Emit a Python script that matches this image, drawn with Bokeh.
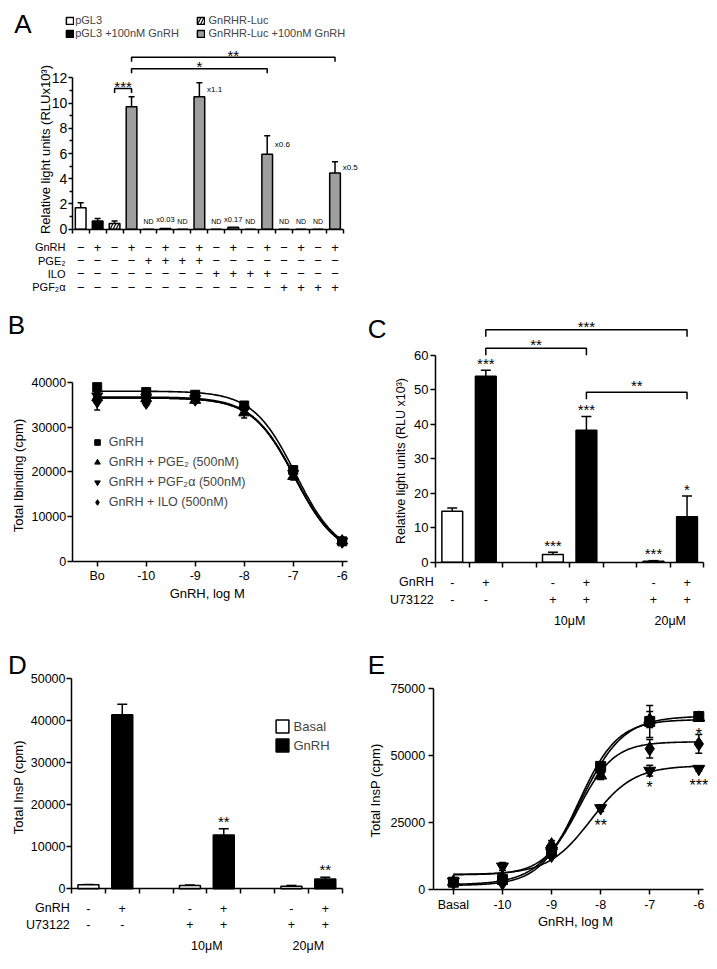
import numpy as np
from bokeh.plotting import figure
from bokeh.models import (ColumnDataSource, Range1d, FixedTicker, Whisker, TeeHead,
                          Label, Legend, LegendItem)
from bokeh.layouts import column, row
from bokeh.embed import file_html
from bokeh.resources import INLINE

FONT = "Liberation Sans"

# ======================= DATA =======================
# ---- Panel A : luciferase reporter ----
a_series = ["pGL3", "pGL3 +100nM GnRH", "GnRHR-Luc", "GnRHR-Luc +100nM GnRH",
            "GnRHR-Luc", "GnRHR-Luc +100nM GnRH", "GnRHR-Luc", "GnRHR-Luc +100nM GnRH",
            "GnRHR-Luc", "GnRHR-Luc +100nM GnRH", "GnRHR-Luc", "GnRHR-Luc +100nM GnRH",
            "GnRHR-Luc", "GnRHR-Luc +100nM GnRH", "GnRHR-Luc", "GnRHR-Luc +100nM GnRH"]
a_values = [1.7, 0.65, 0.45, 9.7, 0, 0.05, 0, 10.5, 0, 0.15, 0, 5.95, 0, 0, 0, 4.45]
a_errors = [0.4, 0.2, 0.2, 0.8, 0, 0, 0, 1.1, 0, 0, 0, 1.45, 0, 0, 0, 0.9]
a_notes = ["", "", "", "", "ND", "x0.03", "ND", "x1.1", "ND", "x0.17", "ND", "x0.6",
           "ND", "ND", "ND", "x0.5"]
a_gnrh = ["-", "+", "-", "+", "-", "+", "-", "+", "-", "+", "-", "+", "-", "+", "-", "+"]
a_pge2 = ["-", "-", "-", "-", "+", "+", "+", "+", "-", "-", "-", "-", "-", "-", "-", "-"]
a_ilo = ["-", "-", "-", "-", "-", "-", "-", "-", "+", "+", "+", "+", "-", "-", "-", "-"]
a_pgf2a = ["-", "-", "-", "-", "-", "-", "-", "-", "-", "-", "-", "-", "+", "+", "+", "+"]
a_row_names = ["GnRH", "PGE₂", "ILO", "PGF₂α"]
a_legend = ["pGL3", "pGL3 +100nM GnRH", "GnRHR-Luc", "GnRHR-Luc +100nM GnRH"]
a_brackets = [(2, 3, "***"), (3, 11, "*"), (3, 15, "**")]
a_yticks = [0, 2, 4, 6, 8, 10, 12]

# ---- Panel B : binding ----
b_logdose = [-11, -10, -9, -8, -7, -6]
b_tick_labels = ["Bo", "-10", "-9", "-8", "-7", "-6"]
b_names = ["GnRH", "GnRH + PGE₂ (500nM)", "GnRH + PGF₂α (500nM)", "GnRH + ILO (500nM)"]
b_gnrh = [38900, 37800, 37200, 34800, 20400, 4500]
b_gnrh_err = [600, 500, 500, 700, 700, 400]
b_pge2 = [36600, 36400, 36000, 33200, 19000, 4600]
b_pge2_err = [900, 600, 700, 1200, 800, 400]
b_pgf2a = [36900, 36600, 36300, 33800, 19600, 4500]
b_pgf2a_err = [800, 600, 600, 900, 700, 400]
b_ilo = [35700, 35400, 36100, 34200, 19900, 4400]
b_ilo_err = [1900, 600, 600, 900, 800, 400]
# one-site fit parameters
b_fit_top = [38000, 36500, 36700, 36500]
b_fit_bottom = [1000, 1000, 1000, 1000]
b_fit_logic50 = [-6.95, -6.97, -6.97, -6.96]
b_fit_hill = [1.0, 1.0, 1.0, 1.0]
b_yticks = [0, 10000, 20000, 30000, 40000]

# ---- Panel C : luciferase with U73122 ----
c_slots = [0, 1, 3, 4, 6, 7]
c_values = [14.8, 54.0, 2.2, 38.3, 0.3, 13.2]
c_errors = [0.9, 1.7, 0.7, 4.0, 0.15, 6.0]
c_gnrh = ["-", "+", "-", "+", "-", "+"]
c_u73122 = ["-", "-", "+", "+", "+", "+"]
c_stars = ["", "***", "***", "***", "***", "*"]
c_brackets = [(1, 5, "***"), (1, 3, "**"), (3, 5, "**")]
c_conc = ["10μM", "20μM"]
c_yticks = [0, 10, 20, 30, 40, 50, 60]

# ---- Panel D : InsP with U73122 ----
d_slots = [0, 1, 3, 4, 6, 7]
d_values = [950, 41300, 800, 12800, 600, 2300]
d_errors = [100, 2500, 100, 1450, 200, 450]
d_gnrh = ["-", "+", "-", "+", "-", "+"]
d_u73122 = ["-", "-", "+", "+", "+", "+"]
d_stars = ["", "", "", "**", "", "**"]
d_conc = ["10μM", "20μM"]
d_legend = ["Basal", "GnRH"]
d_yticks = [0, 10000, 20000, 30000, 40000, 50000]

# ---- Panel E : InsP dose response ----
e_logdose = [-11, -10, -9, -8, -7, -6]
e_tick_labels = ["Basal", "-10", "-9", "-8", "-7", "-6"]
e_gnrh = [2730, 3700, 14500, 46000, 62800, 64650]
e_gnrh_err = [300, 500, 1000, 1500, 6000, 800]
e_pge2 = [2900, 4200, 16800, 42600, 63500, 64200]
e_pge2_err = [300, 500, 1500, 1500, 3000, 800]
e_pgf2a = [3000, 8600, 13900, 30400, 44400, 45100]
e_pgf2a_err = [300, 1500, 1000, 1200, 2000, 800]
e_ilo = [2600, 2400, 12700, 43900, 52600, 54400]
e_ilo_err = [300, 400, 1000, 1500, 3500, 3500]
e_fit_top = [64800, 63500, 46300, 55200]
e_fit_bottom = [1800, 1500, 5600, 5500]
e_fit_logec50 = [-8.4, -8.45, -8.2, -8.45]
e_fit_hill = [1.0, 1.1, 1.0, 1.2]
e_stars = [(2, -8, "**", "below"), (2, -7, "*", "below"), (3, -6, "*", "above"), (2, -6, "***", "below")]
e_yticks = [0, 25000, 50000, 75000]

MARKERS = ["square", "triangle", "inverted_triangle", "diamond"]
MSIZES = [9, 11, 11, 13]


# ======================= HELPERS =======================
class Geo:
    """Maps page pixels to data: (L,R,T,B) is the axis box whose extents are xr, yr."""
    def __init__(self, ox, oy, w, h, L, R, T, B, xr, yr):
        self.ox, self.oy, self.w, self.h = ox, oy, w, h
        self.L, self.R, self.T, self.B = L, R, T, B
        self.xr, self.yr = xr, yr
        self.full_xr = (self.x(ox), self.x(ox + w))
        self.full_yr = (self.y(oy + h), self.y(oy))

    def x(self, px):
        return self.xr[0] + (px - self.L) * (self.xr[1] - self.xr[0]) / (self.R - self.L)

    def y(self, py):
        return self.yr[0] + (self.B - py) * (self.yr[1] - self.yr[0]) / (self.B - self.T)

    def dx(self, npx):
        return npx * (self.xr[1] - self.xr[0]) / (self.R - self.L)

    def py(self, y):
        return self.B - (y - self.yr[0]) * (self.B - self.T) / (self.yr[1] - self.yr[0])

    def legend_loc(self, left_px, bottom_px):
        return (left_px - self.ox, self.oy + self.h - bottom_px)


def make_fig(g, tick_size):
    p = figure(width=g.w, height=g.h, x_range=Range1d(*g.full_xr), y_range=Range1d(*g.full_yr),
               min_border_left=0, min_border_right=0, min_border_top=0, min_border_bottom=0,
               toolbar_location=None, tools="", output_backend="svg")
    p.outline_line_color = None
    p.xgrid.visible = False
    p.ygrid.visible = False
    p.background_fill_color = "white"
    p.border_fill_color = "white"
    p.xaxis.fixed_location = g.yr[0]
    p.xaxis.bounds = g.xr
    p.yaxis.fixed_location = g.xr[0]
    p.yaxis.bounds = g.yr
    for ax in (p.xaxis[0], p.yaxis[0]):
        ax.axis_line_width = 1.5
        ax.axis_line_color = "black"
        ax.major_tick_line_width = 1.5
        ax.major_tick_line_color = "black"
        ax.major_tick_in = 0
        ax.major_tick_out = 5
        ax.minor_tick_line_color = None
        ax.major_label_text_font = FONT
        ax.major_label_text_font_size = f"{tick_size}px"
        ax.major_label_text_color = "black"
        ax.major_label_standoff = 2
    return p


def label(p, x, y, text, size, align="center", baseline="middle", angle=0):
    p.add_layout(Label(x=x, y=y, text=text, text_font=FONT, text_font_size=f"{size}px",
                       text_align=align, text_baseline=baseline, text_color="black",
                       angle=angle, angle_units="deg"))


def star(p, g, x, py_center, text, size):
    # asterisks sit high in the em box: shift the anchor down so the glyph centre lands on py_center
    label(p, x, g.y(py_center + 0.22 * size), text, size)


def whiskers(p, xs, vals, errs, size, both=False):
    keep = [i for i in range(len(xs)) if errs[i] > 0]
    src = ColumnDataSource(dict(
        x=[xs[i] for i in keep],
        lo=[(vals[i] - errs[i]) if both else vals[i] for i in keep],
        hi=[vals[i] + errs[i] for i in keep]))
    w = Whisker(source=src, base="x", lower="lo", upper="hi", line_width=1.5, line_color="black",
                upper_head=TeeHead(size=size, line_width=1.5, line_color="black"),
                lower_head=TeeHead(size=size, line_width=1.5, line_color="black") if both else None)
    p.add_layout(w)


def bracket(p, g, xa, xb, py_line, drop_px, text, star_size, star_gap):
    yl = g.y(py_line)
    yd = g.y(py_line + drop_px)
    p.line(x=[xa, xa, xb, xb], y=[yd, yl, yl, yd], line_color="black", line_width=1.5)
    star(p, g, (xa + xb) / 2, py_line - star_gap, text, star_size)


def legend(p, items, loc, gw, gh, lh, standoff, size):
    p.add_layout(Legend(items=items, location=loc, padding=0, margin=0, spacing=0,
                        glyph_width=gw, glyph_height=gh, label_height=lh, label_standoff=standoff,
                        label_text_font=FONT, label_text_font_size=f"{size}px",
                        border_line_color=None, background_fill_alpha=0))


# ======================= PANEL A =======================
gA = Geo(0, 0, 716, 300, 71.7, 343, 77.3, 228.7, (0, 16), (0, 12))
pA = make_fig(gA, 14)
pA.xaxis.ticker = FixedTicker(ticks=list(range(17)))
pA.xaxis.major_label_overrides = {i: "" for i in range(17)}
pA.xaxis.major_tick_out = 4
pA.yaxis.ticker = FixedTicker(ticks=a_yticks, minor_ticks=[1, 3, 5, 7, 9, 11])
pA.yaxis.major_tick_out = 4
pA.yaxis.minor_tick_line_color = "black"
pA.yaxis.minor_tick_line_width = 1.5
pA.yaxis.minor_tick_out = 3
pA.yaxis.minor_tick_in = 0
pA.yaxis.major_label_standoff = 1

a_styles = {
    "pGL3": dict(fill_color="white"),
    "pGL3 +100nM GnRH": dict(fill_color="black"),
    "GnRHR-Luc": dict(fill_color="white", hatch_pattern="/", hatch_color="black",
                      hatch_scale=6, hatch_weight=1.2),
    "GnRHR-Luc +100nM GnRH": dict(fill_color="#9e9e9e"),
}
a_x = [i + 0.5 for i in range(len(a_values))]
a_rend = {}
for name in a_legend:
    idx = [i for i, s in enumerate(a_series) if s == name]
    src = ColumnDataSource(dict(x=[a_x[i] for i in idx], top=[a_values[i] for i in idx]))
    a_rend[name] = pA.vbar(x="x", top="top", width=0.63, source=src, line_color="black",
                           line_width=1.5, **a_styles[name])
whiskers(pA, a_x, a_values, a_errors, 6)

for name, (lx, cy, so) in zip(a_legend, [(65.2, 20, 1), (65.2, 33.3, 1),
                                         (195.5, 20, 4), (195.5, 33.3, 4)]):
    legend(pA, [LegendItem(label=name, renderers=[a_rend[name]])],
           gA.legend_loc(lx, cy + 8), 9, 9, 16, so, 11)

for i, note in enumerate(a_notes):
    if not note:
        continue
    if note == "ND":
        label(pA, a_x[i], gA.y(221), note, 7)
    elif a_values[i] > 1:
        label(pA, a_x[i] + 0.315 + gA.dx(2.3), a_values[i] + a_errors[i] * 0.5, note, 8, align="left")
    else:
        label(pA, a_x[i], gA.y(218.5), note, 7.5)

for (ia, ib, txt), py_line in zip(a_brackets, [88, 68.3, 56.7]):
    bracket(pA, gA, a_x[ia], a_x[ib], py_line, 4.5, txt, 15, 5.5)

for name, signs, py in zip(a_row_names, [a_gnrh, a_pge2, a_ilo, a_pgf2a], [246.7, 260, 273.3, 286.7]):
    label(pA, gA.x(65), gA.y(py), name, 11, align="right")
    for i, s in enumerate(signs):
        label(pA, a_x[i], gA.y(py), "−" if s == "-" else "+", 13)

label(pA, gA.x(22.5), gA.y(23), "A", 26)
label(pA, gA.x(45), gA.y(149), "Relative light units (RLUx10³)", 13, angle=90)

# ======================= PANEL B =======================
gB = Geo(0, 300, 360, 335, 71.7, 346.7, 381.7, 561, (-11.510, -5.898), (0, 40000))
pB = make_fig(gB, 12.5)
pB.xaxis.ticker = FixedTicker(ticks=b_logdose)
pB.xaxis.major_label_overrides = dict(zip(b_logdose, b_tick_labels))
pB.yaxis.ticker = FixedTicker(ticks=b_yticks)
pB.yaxis.major_label_standoff = 1

b_vals = [b_gnrh, b_pge2, b_pgf2a, b_ilo]
b_errs = [b_gnrh_err, b_pge2_err, b_pgf2a_err, b_ilo_err]
xx = np.linspace(-11, -6, 200)
b_items = []
for k in range(4):
    yy = b_fit_bottom[k] + (b_fit_top[k] - b_fit_bottom[k]) / (1 + 10 ** ((xx - b_fit_logic50[k]) * b_fit_hill[k]))
    pB.line(xx, yy, line_color="black", line_width=1.6)
for k in range(4):
    whiskers(pB, b_logdose, b_vals[k], b_errs[k], 6, both=True)
    r = pB.scatter(b_logdose, b_vals[k], marker=MARKERS[k], size=MSIZES[k],
                   fill_color="black", line_color="black")
    b_items.append(LegendItem(label=b_names[k], renderers=[r]))
legend(pB, b_items, gB.legend_loc(89.7, 511.7), 14, 14, 20, 5, 12.5)
label(pB, gB.x(16), gB.y(324), "B", 26)
label(pB, gB.x(18.3), gB.y(475), "Total Ibinding (cpm)", 13, angle=90)
label(pB, gB.x(206.7), gB.y(593.3), "GnRH, log M", 13)

# ======================= PANEL C =======================
gC = Geo(360, 300, 356, 335, 435, 703.3, 355, 561.7, (0, 8), (0, 60))
pC = make_fig(gC, 13)
pC.xaxis.ticker = FixedTicker(ticks=list(range(9)))
pC.xaxis.major_label_overrides = {i: "" for i in range(9)}
pC.yaxis.ticker = FixedTicker(ticks=c_yticks)

c_x = [s + 0.5 for s in c_slots]
for sign, fill in (("-", "white"), ("+", "black")):
    idx = [i for i in range(len(c_x)) if c_gnrh[i] == sign]
    pC.vbar(x=[c_x[i] for i in idx], top=[c_values[i] for i in idx], width=0.62,
            fill_color=fill, line_color="black", line_width=1.5)
whiskers(pC, c_x, c_values, c_errors, 10)
for i, s in enumerate(c_stars):
    if s:
        star(pC, gC, c_x[i], gC.py(c_values[i] + c_errors[i]) - 10, s, 15)
for (ia, ib, txt), py_line, gap in zip(c_brackets, [329.3, 347.7, 391.7], [6.7, 6.7, 10]):
    bracket(pC, gC, c_x[ia], c_x[ib], py_line, 7, txt, 15, gap)
for name, signs, py in (("GnRH", c_gnrh, 581.7), ("U73122", c_u73122, 599.3)):
    label(pC, gC.x(433.3), gC.y(py), name, 12.5, align="right")
    for i, s in enumerate(signs):
        label(pC, c_x[i], gC.y(py), s, 12.5)
for k, conc in enumerate(c_conc):
    label(pC, (c_x[2 + 2 * k] + c_x[3 + 2 * k]) / 2, gC.y(620), conc, 12.5)
label(pC, gC.x(376.7), gC.y(328), "C", 26)
label(pC, gC.x(400), gC.y(460.5), "Relative light units (RLU x10³)", 12.5, angle=90)

# ======================= PANEL D =======================
gD = Geo(0, 635, 360, 333, 71, 341.7, 677.7, 888.3, (0, 8), (0, 50000))
pD = make_fig(gD, 12.5)
pD.xaxis.ticker = FixedTicker(ticks=list(range(9)))
pD.xaxis.major_label_overrides = {i: "" for i in range(9)}
pD.yaxis.ticker = FixedTicker(ticks=d_yticks)
pD.yaxis.major_label_standoff = 1

d_x = [s + 0.5 for s in d_slots]
d_items = []
for sign, fill, name in (("-", "white", d_legend[0]), ("+", "black", d_legend[1])):
    idx = [i for i in range(len(d_x)) if d_gnrh[i] == sign]
    r = pD.vbar(x=[d_x[i] for i in idx], top=[d_values[i] for i in idx], width=0.62,
                fill_color=fill, line_color="black", line_width=1.5)
    d_items.append(LegendItem(label=name, renderers=[r]))
whiskers(pD, d_x, d_values, d_errors, 10)
for i, s in enumerate(d_stars):
    if s:
        star(pD, gD, d_x[i], gD.py(d_values[i] + d_errors[i]) - 11, s, 15)
legend(pD, d_items, gD.legend_loc(273.5, 754.5), 16, 16, 19, 4, 13)
for name, signs, py in (("GnRH", d_gnrh, 907.7), ("U73122", d_u73122, 924.3)):
    label(pD, gD.x(69.3), gD.y(py), name, 12.5, align="right")
    for i, s in enumerate(signs):
        label(pD, d_x[i], gD.y(py), s, 12.5)
for k, conc in enumerate(d_conc):
    label(pD, (d_x[2 + 2 * k] + d_x[3 + 2 * k]) / 2, gD.y(945), conc, 12.5)
label(pD, gD.x(17), gD.y(664), "D", 26)
label(pD, gD.x(18.3), gD.y(786.7), "Total InsP (cpm)", 13, angle=90)

# ======================= PANEL E =======================
gE = Geo(360, 635, 356, 333, 432.7, 703.3, 688.3, 889, (-11.412, -5.898), (0, 75000))
pE = make_fig(gE, 12.5)
pE.xaxis.ticker = FixedTicker(ticks=e_logdose)
pE.xaxis.major_label_overrides = dict(zip(e_logdose, e_tick_labels))
pE.xaxis.major_label_standoff = 3
pE.yaxis.ticker = FixedTicker(ticks=e_yticks)
pE.yaxis.major_label_standoff = 3

e_vals = [e_gnrh, e_pge2, e_pgf2a, e_ilo]
e_errs = [e_gnrh_err, e_pge2_err, e_pgf2a_err, e_ilo_err]
xx = np.linspace(-11, -6, 200)
for k in range(4):
    yy = e_fit_bottom[k] + (e_fit_top[k] - e_fit_bottom[k]) / (1 + 10 ** ((e_fit_logec50[k] - xx) * e_fit_hill[k]))
    pE.line(xx, yy, line_color="black", line_width=1.6)
for k in range(4):
    whiskers(pE, e_logdose, e_vals[k], e_errs[k], 7, both=True)
    pE.scatter(e_logdose, e_vals[k], marker=MARKERS[k], size=MSIZES[k] + 1,
               fill_color="black", line_color="black")
for k, dose, txt, side in e_stars:
    j = e_logdose.index(dose)
    pyc = gE.py(e_vals[k][j]) + (13.5 if side == "below" else -13)
    star(pE, gE, dose, pyc, txt, 16)
label(pE, gE.x(375.8), gE.y(664), "E", 26)
label(pE, gE.x(375), gE.y(790), "Total InsP (cpm)", 13, angle=90)
label(pE, gE.x(575), gE.y(920.7), "GnRH, log M", 13)

layout = column(pA, row(pB, pC), row(pD, pE))
open("out.html", "w").write(file_html(layout, INLINE))
